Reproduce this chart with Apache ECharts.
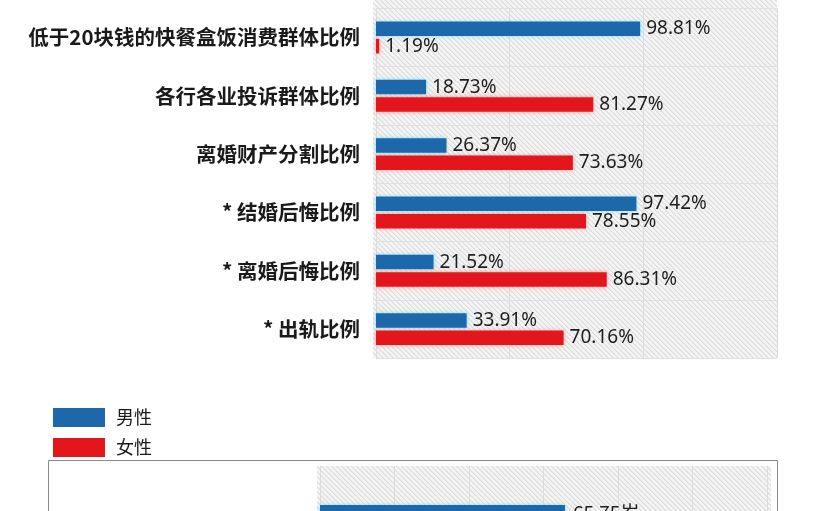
<!DOCTYPE html>
<html>
<head>
<meta charset="utf-8">
<script src="https://cdn.jsdelivr.net/npm/echarts@6/dist/echarts.min.js"></script>
<style>
html,body{margin:0;padding:0;background:#fff;}
#chart{width:826px;height:511px;}
</style>
</head>
<body>
<div id="chart"></div>
<script>
// ---- data ----
const categories = ['低于20块钱的快餐盒饭消费群体比例', '各行各业投诉群体比例', '离婚财产分割比例', '* 结婚后悔比例', '* 离婚后悔比例', '* 出轨比例'];
const maleValues = [98.81, 18.73, 26.37, 97.42, 21.52, 33.91];
const femaleValues = [1.19, 81.27, 73.63, 78.55, 86.31, 70.16];
const seriesNames = ['男性', '女性'];
const pctAxisMin = 0, pctAxisMax = 150, pctAxisInterval = 50;
const lifeCategories = [''];
const lifeMale = [65.75];
const lifeUnit = '岁';
const lifeAxisMin = 0, lifeAxisMax = 120, lifeAxisInterval = 20;

// ---- styles ----
const BLUE = '#1c68aa';
const RED = '#e3171b';

function hatchPattern() {
  const n = 5;
  const c = document.createElement('canvas');
  c.width = n; c.height = n;
  const ctx = c.getContext('2d');
  ctx.fillStyle = '#f4f4f4';
  ctx.fillRect(0, 0, n, n);
  for (let i = 0; i < n; i++) {
    ctx.fillStyle = '#dcdcdc';
    ctx.fillRect(i, i, 1, 1);
    ctx.fillStyle = '#e8e8e8';
    ctx.fillRect((i + 1) % n, i, 1, 1);
  }
  return { image: c, repeat: 'repeat' };
}
const pat = hatchPattern();

const chart = echarts.init(document.getElementById('chart'), null, { renderer: 'canvas' });

const valueLabel = {
  show: true, position: 'right', distance: 6,
  fontFamily: 'Noto Sans', fontSize: 19, color: '#1e1e1e',
  formatter: p => p.value.toFixed(2) + '%'
};

const option = {
  backgroundColor: '#ffffff',
  animation: false,
  graphic: [
    { type: 'rect', z: -10, shape: { x: 373, y: 0, width: 404, height: 358 }, style: { fill: pat } },
    { type: 'rect', z: -10, shape: { x: 48.5, y: 460.5, width: 729, height: 80 }, style: { fill: '#fff', stroke: '#8a8a8a', lineWidth: 1 } },
    { type: 'rect', z: -9, shape: { x: 317, y: 466, width: 454, height: 60 }, style: { fill: pat } }
  ],
  legend: {
    data: seriesNames,
    orient: 'vertical',
    left: 48, top: 403,
    itemWidth: 52, itemHeight: 19, itemGap: 11,
    icon: 'rect',
    textStyle: { fontFamily: 'Noto Sans CJK SC', fontSize: 18, color: '#1a1a1a', padding: [0, 0, 0, 6] }
  },
  grid: [
    { left: 376, right: 49, top: 8.3, height: 350, containLabel: false, outerBoundsMode: 'none' },
    { left: 320, right: 59, top: 466, height: 93, containLabel: false, outerBoundsMode: 'none' }
  ],
  xAxis: [
    {
      gridIndex: 0, type: 'value', min: pctAxisMin, max: pctAxisMax, interval: pctAxisInterval,
      axisLabel: { show: false }, axisLine: { show: false }, axisTick: { show: false },
      splitLine: { show: true, lineStyle: { color: '#dcdcdc', width: 1 } }
    },
    {
      gridIndex: 1, type: 'value', min: lifeAxisMin, max: lifeAxisMax, interval: lifeAxisInterval,
      axisLabel: { show: false }, axisLine: { show: false }, axisTick: { show: false },
      splitLine: { show: true, lineStyle: { color: '#dcdcdc', width: 1 } }
    }
  ],
  yAxis: [
    {
      gridIndex: 0, type: 'category', data: categories, inverse: true,
      axisLine: { show: false }, axisTick: { show: false },
      splitLine: { show: true, lineStyle: { color: '#e0e0e0', width: 1 } },
      axisLabel: { margin: 16, fontFamily: 'Noto Sans CJK SC', fontSize: 20.5, fontWeight: 'bold', color: '#1a1a1a' }
    },
    {
      gridIndex: 1, type: 'category', data: lifeCategories, inverse: true,
      axisLine: { show: false }, axisTick: { show: false },
      splitLine: { show: false },
      axisLabel: { show: false }
    }
  ],
  series: [
    {
      name: seriesNames[0], type: 'bar', xAxisIndex: 0, yAxisIndex: 0,
      data: maleValues, barWidth: 14.5, barGap: '20%',
      itemStyle: { color: BLUE, shadowColor: 'rgba(110,225,255,0.9)', shadowBlur: 4 },
      label: valueLabel
    },
    {
      name: seriesNames[1], type: 'bar', xAxisIndex: 0, yAxisIndex: 0,
      data: femaleValues, barWidth: 14.5, barGap: '20%',
      itemStyle: { color: RED, shadowColor: 'rgba(255,130,130,0.8)', shadowBlur: 4 },
      label: valueLabel
    },
    {
      name: seriesNames[0], type: 'bar', xAxisIndex: 1, yAxisIndex: 1,
      data: lifeMale, barWidth: 15,
      itemStyle: { color: BLUE, shadowColor: 'rgba(110,225,255,0.9)', shadowBlur: 4 },
      label: {
        show: true, position: 'right', distance: 8,
        fontFamily: 'Noto Sans CJK SC', fontSize: 19, color: '#1e1e1e',
        formatter: p => p.value.toFixed(2) + lifeUnit
      }
    }
  ]
};
chart.setOption(option);
</script>
</body>
</html>
